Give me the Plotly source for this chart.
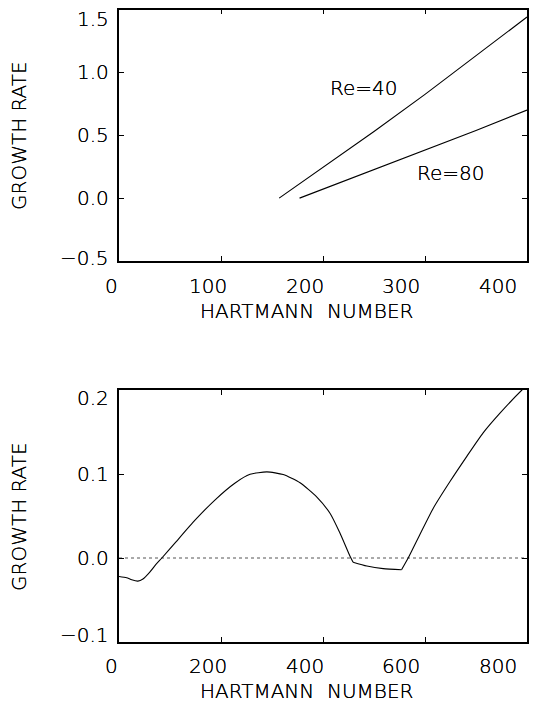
import plotly.graph_objects as go

# ---------------- data ----------------
# top panel
h_re40 = [157, 200, 250, 300, 350, 400]
g_re40 = [0.0, 0.245, 0.53, 0.825, 1.13, 1.44]
h_re80 = [177, 250, 300, 350, 400]
g_re80 = [0.0, 0.225, 0.38, 0.538, 0.70]
top_xticks = [0, 100, 200, 300, 400]
top_xlabels = ["0", "100", "200", "300", "400"]
top_yticks = [1.5, 1.0, 0.5, 0.0, -0.5]
top_ylabels = ["1.5", "1.0", "0.5", "0.0", "\u22120.5"]

# bottom panel (three smooth branches joined at kinks)
h_bot = [0, 15, 25, 37, 47, 60, 72, 84, 110, 149, 188, 227, 257, 290, 322, 355,
         388, 414, 433, 453, 459, 486, 518, 554, 567, 590, 616, 649, 682, 714, 747, 790, 800]
g_bot = [-0.022, -0.0235, -0.026, -0.0275, -0.025, -0.017, -0.008, 0.0, 0.018, 0.045,
         0.069, 0.089, 0.0996, 0.1025, 0.0993, 0.0895, 0.0725, 0.053, 0.030, 0.002, -0.005,
         -0.0096, -0.0127, -0.0139, 0.0, 0.028, 0.059, 0.091, 0.121, 0.149, 0.1725, 0.2, 0.2055]
kinks = [459, 554]
bot_xticks = [0, 200, 400, 600, 800]
bot_xlabels = ["0", "200", "400", "600", "800"]
bot_yticks = [0.2, 0.1, 0.0, -0.1]
bot_ylabels = ["0.2", "0.1", "0.0", "\u22120.1"]

xtitle = "HARTMANN  NUMBER"
ytitle = "GROWTH RATE"

# ---------------- figure ----------------
W, H = 551, 704
FONT = "DejaVu Sans"
FS = 20
TXT = "#000000"

fig = go.Figure()
lw = 1.1
fig.add_trace(go.Scatter(x=h_re40, y=g_re40, mode="lines",
                         line=dict(color="black", width=lw), xaxis="x", yaxis="y"))
fig.add_trace(go.Scatter(x=h_re80, y=g_re80, mode="lines",
                         line=dict(color="black", width=lw), xaxis="x", yaxis="y"))
fig.add_trace(go.Scatter(x=[0, 800], y=[0, 0], mode="lines",
                         line=dict(color="#555555", width=1, dash="dot"), xaxis="x2", yaxis="y2"))

cuts = [0] + [h_bot.index(k) for k in kinks] + [len(h_bot) - 1]
for a, b in zip(cuts[:-1], cuts[1:]):
    fig.add_trace(go.Scatter(x=h_bot[a:b + 1], y=g_bot[a:b + 1], mode="lines",
                             line=dict(color="black", width=lw, shape="spline", smoothing=0.6),
                             xaxis="x2", yaxis="y2"))

# plot area geometry (pixels)
L, R = 119, 527
top_t, top_b = 9.5, 261
bot_t, bot_b = 390, 642

def px2p(x):
    return x / W

def py2p(y):
    return 1 - y / H

axcommon = dict(showgrid=False, zeroline=False, showline=True, linecolor="black",
                linewidth=1.5, mirror="allticks", ticks="inside", ticklen=5,
                tickwidth=1, tickcolor="black", showticklabels=False)

fig.update_layout(
    width=W, height=H, margin=dict(l=0, r=0, t=0, b=0),
    paper_bgcolor="white", plot_bgcolor="white", showlegend=False,
    xaxis=dict(domain=[px2p(L), px2p(R)], range=[0, 400], tickvals=top_xticks,
               anchor="y", **axcommon),
    yaxis=dict(domain=[py2p(top_b), py2p(top_t)], range=[-0.5, 1.5], tickvals=top_yticks,
               anchor="x", **axcommon),
    xaxis2=dict(domain=[px2p(L), px2p(R)], range=[0, 800], tickvals=bot_xticks,
                anchor="y2", **axcommon),
    yaxis2=dict(domain=[py2p(bot_b), py2p(bot_t)], range=[-0.1, 0.2], tickvals=bot_yticks,
                anchor="x2", **axcommon),
)

ann = []
font = dict(family=FONT, size=FS, color=TXT, weight=200, shadow="0 0 0.5px #000")

def xlabels(xref, ticks, labels, ypix):
    n = len(ticks)
    for k, (v, lab) in enumerate(zip(ticks, labels)):
        f = k / (n - 1)
        ann.append(dict(xref=xref + " domain", yref="paper", x=-0.0172 + 0.946 * f,
                        y=py2p(ypix), text=lab, showarrow=False, font=font,
                        xanchor="center", yanchor="middle"))

def ylabels(yref, ticks, labels, shifts):
    for v, lab, s in zip(ticks, labels, shifts):
        ann.append(dict(xref="paper", yref=yref, x=px2p(111), y=v, yshift=s,
                        text=lab, showarrow=False, font=font,
                        xanchor="right", yanchor="middle"))

xlabels("x", top_xticks, top_xlabels, 286)
xlabels("x2", bot_xticks, bot_xlabels, 666)
ylabels("y", top_yticks, top_ylabels, [-9.5, 0, 0, 0, 3.5])
ylabels("y2", bot_yticks, bot_ylabels, [-8, 0, 0, 7])

for yc in (311, 691):
    ann.append(dict(xref="paper", yref="paper", x=px2p(306), y=py2p(yc), text=xtitle,
                    showarrow=False, font=font, xanchor="center", yanchor="middle"))
for yc in (136, 517):
    ann.append(dict(xref="paper", yref="paper", x=px2p(19), y=py2p(yc), text=ytitle,
                    showarrow=False, font=font, textangle=-90,
                    xanchor="center", yanchor="middle"))

ann.append(dict(xref="x", yref="y", x=240, y=0.875, text="Re=40", showarrow=False,
                font=font, xanchor="center", yanchor="middle"))
ann.append(dict(xref="x", yref="y", x=325, y=0.203, text="Re=80", showarrow=False,
                font=font, xanchor="center", yanchor="middle"))

fig.update_layout(annotations=ann)
fig.write_html("out.html", config={"displayModeBar": False},
               post_script="document.body.style.margin='0';document.body.style.overflow='hidden';")
